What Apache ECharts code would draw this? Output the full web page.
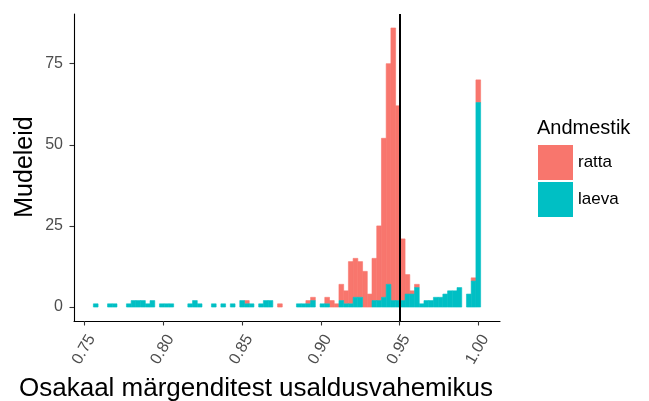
<!DOCTYPE html>
<html>
<head>
<meta charset="utf-8">
<script src="https://cdn.jsdelivr.net/npm/echarts@6/dist/echarts.min.js"></script>
<style>
  html, body { margin: 0; padding: 0; background: #fff; }
  #chart { width: 649px; height: 401px; }
</style>
</head>
<body>
<div id="chart"></div>
<script>
// histogram bins: first centre and width (82 bins, last centre at 1.00)
const firstBin = 0.757;
const binWidth = 0.003;

// counts per bin, left to right
const laeva = [
  1, 0, 0, 1, 1, 0, 0, 1, 2, 2,
  2, 1, 2, 0, 1, 1, 1, 0, 0, 0,
  1, 2, 1, 0, 0, 1, 0, 1, 0, 1,
  0, 2, 1, 1, 0, 1, 2, 2, 0, 0,
  0, 0, 0, 1, 1, 1, 2, 0, 1, 1,
  0, 0, 2, 1, 1, 3, 3, 0, 0, 2,
  2, 3, 7, 2, 2, 2, 4, 4, 6, 1,
  2, 2, 3, 3, 4, 5, 5, 6, 0, 4,
  8, 63
];
const ratta = [
  0, 0, 0, 0, 0, 0, 0, 0, 0, 0,
  0, 0, 0, 0, 0, 0, 0, 0, 0, 0,
  0, 0, 0, 0, 0, 0, 0, 0, 0, 0,
  0, 0, 1, 0, 0, 0, 0, 0, 0, 1,
  0, 0, 0, 0, 0, 1, 1, 0, 0, 2,
  2, 1, 5, 4, 13, 12, 11, 11, 4, 13,
  23, 49, 68, 84, 60, 19, 6, 1, 1, 0,
  0, 0, 0, 0, 0, 0, 0, 0, 0, 0,
  1, 7
];

const xTicks = [0.75, 0.8, 0.85, 0.9, 0.95, 1.0];
const yTicks = [0, 25, 50, 75];
const cutoff = 0.95;

const font = 'Liberation Sans, Arial, sans-serif';

// [centre, bottom, top]
const laevaData = laeva.map((v, i) => [firstBin + i * binWidth, 0, v]);
const rattaData = ratta.map((v, i) => [firstBin + i * binWidth, laeva[i], laeva[i] + v]);

function renderBin(params, api) {
  const x = api.value(0);
  const lo = api.value(1);
  const hi = api.value(2);
  if (hi <= lo) return;
  const p0 = api.coord([x - binWidth / 2, lo]);
  const p1 = api.coord([x + binWidth / 2, hi]);
  const color = api.visual('color');
  return {
    type: 'rect',
    shape: { x: p0[0], y: p1[1], width: p1[0] - p0[0], height: p0[1] - p1[1] },
    // thin stroke in same colour closes the hairline gaps between bins
    style: { fill: color, stroke: color, lineWidth: 0.6 }
  };
}

const chart = echarts.init(document.getElementById('chart'), null, { renderer: 'canvas' });

// axis styles
const axisLine = { show: true, onZero: false, lineStyle: { color: '#000', width: 1.1 } };
const axisTick = { show: true, length: 4.5, lineStyle: { color: '#333', width: 1.1 } };

const option = {
  animation: false,
  textStyle: { fontFamily: font },
  title: {
    text: 'Andmestik',
    left: 532,
    top: 113,
    textStyle: { fontSize: 20, fontWeight: 'normal', color: '#000', fontFamily: font }
  },
  legend: {
    orient: 'vertical',
    left: 533,
    top: 140,
    itemWidth: 35,
    itemHeight: 35,
    itemGap: 2,
    icon: 'rect',
    data: ['ratta', 'laeva'],
    textStyle: { fontSize: 17, color: '#000', fontFamily: font }
  },
  // axis titles
  graphic: [
    {
      type: 'text',
      x: 256,
      y: 389,
      style: {
        text: 'Osakaal märgenditest usaldusvahemikus',
        fontSize: 26,
        fontFamily: font,
        fill: '#000',
        align: 'center',
        verticalAlign: 'middle'
      }
    },
    {
      type: 'text',
      x: 25,
      y: 167,
      rotation: Math.PI / 2,
      style: {
        text: 'Mudeleid',
        fontSize: 25,
        fontFamily: font,
        fill: '#000',
        align: 'center',
        verticalAlign: 'middle'
      }
    }
  ],
  grid: { left: 74, right: 149, top: 14, bottom: 80 },
  xAxis: {
    type: 'value',
    min: 0.7432,
    max: 1.0138,
    axisLine: axisLine,
    axisTick: Object.assign({ customValues: xTicks }, axisTick),
    axisLabel: {
      customValues: xTicks,
      rotate: 60,
      margin: 11,
      verticalAlign: 'top',
      fontSize: 16,
      color: '#4D4D4D',
      formatter: v => v.toFixed(2)
    },
    splitLine: { show: false }
  },
  yAxis: {
    type: 'value',
    min: -4.3,
    max: 90.3,
    axisLine: axisLine,
    axisTick: Object.assign({ customValues: yTicks }, axisTick),
    axisLabel: {
      customValues: yTicks,
      margin: 11,
      fontSize: 16,
      color: '#4D4D4D'
    },
    splitLine: { show: false }
  },
  series: [
    {
      name: 'ratta',
      type: 'custom',
      renderItem: renderBin,
      itemStyle: { color: '#F8766D' },
      encode: { x: [0], y: [1, 2] },
      data: rattaData
    },
    {
      name: 'laeva',
      type: 'custom',
      renderItem: renderBin,
      itemStyle: { color: '#00BFC4' },
      encode: { x: [0], y: [1, 2] },
      data: laevaData,
      markLine: {
        silent: true,
        symbol: 'none',
        label: { show: false },
        lineStyle: { color: '#000', width: 2, type: 'solid' },
        data: [{ xAxis: cutoff }]
      }
    }
  ]
};

chart.setOption(option);
</script>
</body>
</html>
